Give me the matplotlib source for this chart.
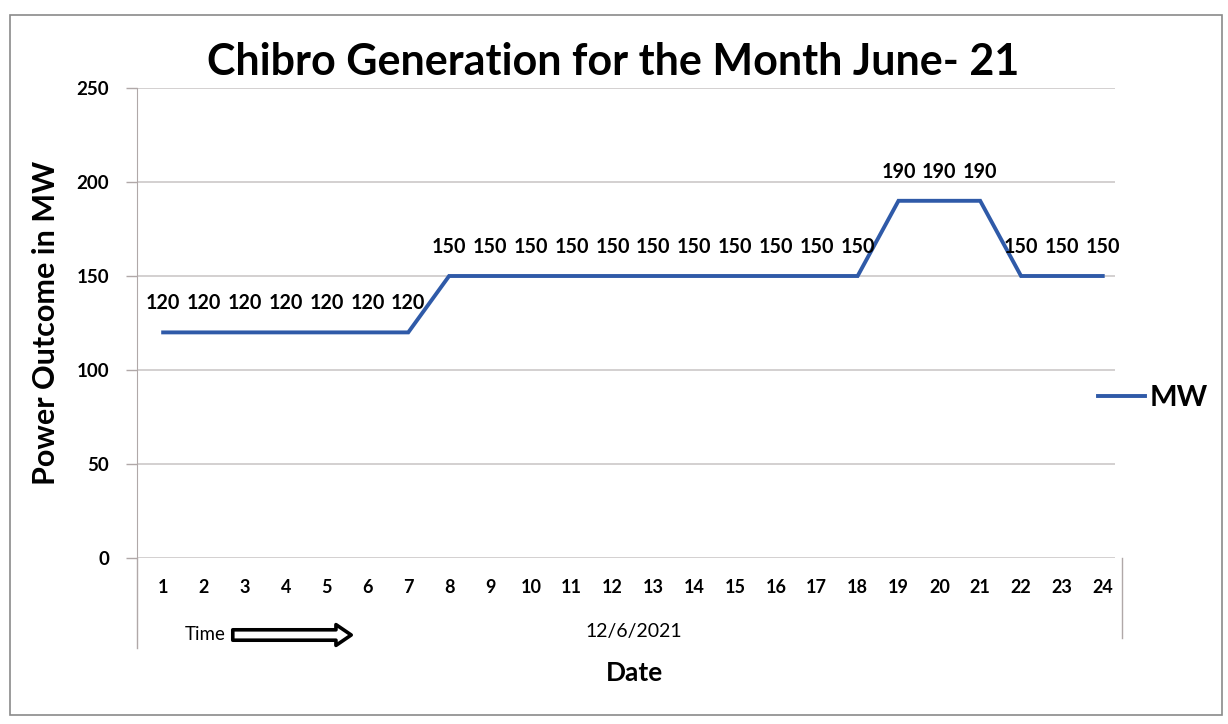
import matplotlib.pyplot as plt
from matplotlib.lines import Line2D
from matplotlib.patches import Rectangle

plt.rcParams['font.family'] = ['Lato', 'DejaVu Sans']

hours = list(range(1, 25))
mw = [120, 120, 120, 120, 120, 120, 120,
      150, 150, 150, 150, 150, 150, 150, 150, 150, 150, 150,
      190, 190, 190,
      150, 150, 150]
yticks = [0, 50, 100, 150, 200, 250]

W, H = 1228, 724
fig = plt.figure(figsize=(W / 100, H / 100), dpi=100)
ax = fig.add_axes([137 / W, 1 - 558 / H, (1115 - 137) / W, (558 - 88) / H])

line_color = '#2f5aa8'
ax.plot(hours, mw, color=line_color, lw=2.8, label='MW', solid_joinstyle='miter')

# data labels
for x, y in zip(hours, mw):
    ax.annotate(str(y), (x, y), xytext=(0, 21), textcoords='offset points',
                ha='center', va='center', fontsize=14.2, fontweight='bold')

ax.set_xlim(0.36, 24.3)
ax.set_ylim(0, 250)
ax.set_xticks(hours)
ax.set_xticklabels([str(h) for h in hours], fontsize=13, fontweight='bold')
ax.set_yticks(yticks)
ax.set_yticklabels([str(v) for v in yticks], fontsize=13.5, fontweight='bold')
ax.tick_params(axis='x', length=0, pad=15)
ax.tick_params(axis='y', length=8, width=1, color='#b0a8a8', pad=12)

ax.grid(axis='y', color='#c8c4c4', lw=1.1)
ax.set_axisbelow(True)
for s in ['top', 'right', 'bottom']:
    ax.spines[s].set_visible(False)
ax.spines['left'].set_color('#b0a8a8')

fig.text(613 / W, 1 - 62 / H, 'Chibro Generation for the Month June- 21',
         fontsize=31, fontweight='bold', ha='center', va='center')
ax.set_ylabel('Power Outcome in MW', fontsize=22, fontweight='bold')
ax.yaxis.set_label_coords((60 - 137) / (1115 - 137), 0.5)

ax.legend(loc='center left', bbox_to_anchor=(1072 / W, 1 - 398 / H),
          bbox_transform=fig.transFigure, frameon=False,
          handlelength=1.6, handletextpad=0.15,
          prop={'weight': 'bold', 'size': 21})

# extra frame lines below the plot area
fig.add_artist(Line2D([137 / W, 137 / W], [1 - 558 / H, 1 - 648 / H],
                      color='#b0a8a8', lw=1))
fig.add_artist(Line2D([1122 / W, 1122 / W], [1 - 558 / H, 1 - 638 / H],
                      color='#b0a8a8', lw=1))

# outer chart border
fig.add_artist(Rectangle((10 / W, 1 - 715 / H), (1222 - 10) / W, (715 - 15) / H,
                         transform=fig.transFigure, fill=False,
                         ec='#8a8a8a', lw=1.2))

fig.text(185 / W, 1 - 635 / H, 'Time', fontsize=13.5, va='center', ha='left')
ax.annotate('', xy=(354, H - 635), xytext=(230, H - 635),
            xycoords='figure pixels', textcoords='figure pixels',
            arrowprops=dict(arrowstyle='simple,head_width=1.5,head_length=1.1,tail_width=0.75',
                            fc='white', ec='black', lw=2.6, mutation_scale=10))
fig.text(634 / W, 1 - 632 / H, '12/6/2021', fontsize=14, va='center', ha='center')
fig.text(634 / W, 1 - 673 / H, 'Date', fontsize=19, va='center', ha='center',
         fontweight='bold')

fig.savefig('out.png', dpi=100)
